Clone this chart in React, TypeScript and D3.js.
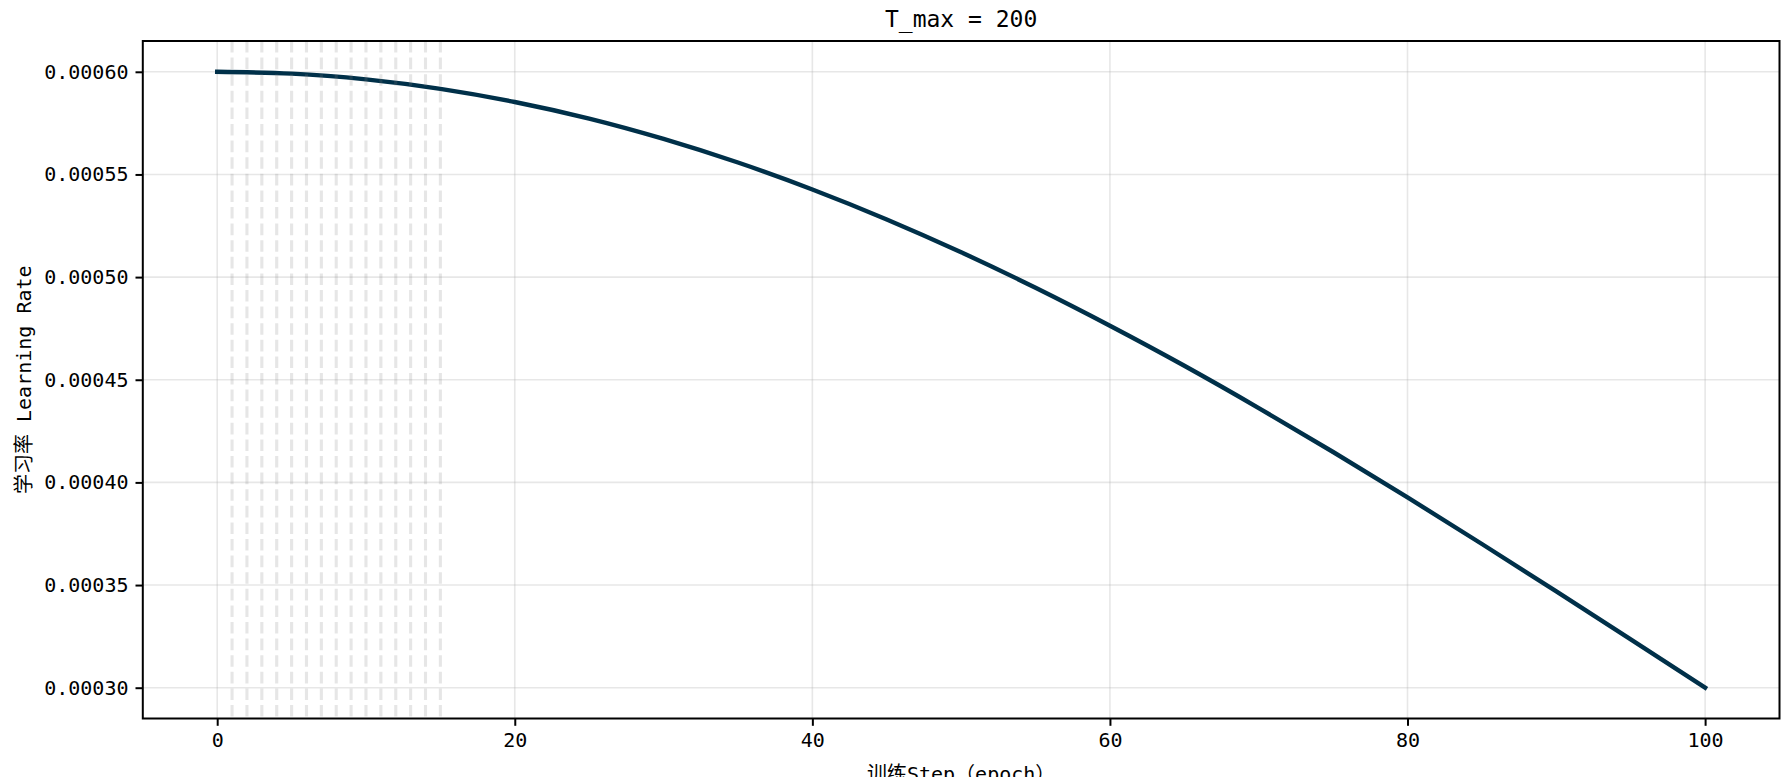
import React, { useRef, useEffect } from 'react';
import * as d3 from 'd3';

// training steps (epochs) sampled along the curve
const steps = [0, 5, 10, 15, 20, 25, 30, 35, 40, 45, 50, 55, 60, 65, 70, 75, 80, 85, 90, 95, 100];
// learning rate at each step
const lrValues = [
  0.0006000, 0.0005991, 0.0005963, 0.0005917, 0.0005853, 0.0005772, 0.0005673,
  0.0005558, 0.0005427, 0.0005281, 0.0005121, 0.0004948, 0.0004763, 0.0004568,
  0.0004362, 0.0004148, 0.0003927, 0.0003700, 0.0003469, 0.0003235, 0.0003000,
];
// dashed markers at the first epochs
const markerSteps = [1, 2, 3, 4, 5, 6, 7, 8, 9, 10, 11, 12, 13, 14, 15];
const xTicks = [0, 20, 40, 60, 80, 100];
const yTicks = [0.0003, 0.00035, 0.0004, 0.00045, 0.0005, 0.00055, 0.0006];

const FONT = '"DejaVu Sans Mono", "Liberation Mono", "Noto Sans CJK SC", monospace';

const App: React.FC = () => {
  const svgRef = useRef<SVGSVGElement>(null);

  useEffect(() => {
    if (!svgRef.current) return;
    const width = 1791;
    const height = 777;
    const margin = { top: 41, right: 11.5, bottom: 58.5, left: 142.8 };
    const innerWidth = width - margin.left - margin.right;
    const innerHeight = height - margin.top - margin.bottom;

    const svg = d3.select(svgRef.current);
    svg.selectAll('*').remove();
    svg.append('rect').attr('width', width).attr('height', height).attr('fill', '#fff');

    const g = svg.append('g').attr('transform', `translate(${margin.left},${margin.top})`);

    const x = d3.scaleLinear().domain([-5, 105]).range([0, innerWidth]);
    const y = d3.scaleLinear().domain([0.000285, 0.000615]).range([innerHeight, 0]);

    // grid
    g.append('g')
      .selectAll('line')
      .data(xTicks)
      .join('line')
      .attr('x1', d => x(d)).attr('x2', d => x(d))
      .attr('y1', 0).attr('y2', innerHeight)
      .attr('stroke', '#b0b0b0').attr('stroke-opacity', 0.3).attr('stroke-width', 1.6);
    g.append('g')
      .selectAll('line')
      .data(yTicks)
      .join('line')
      .attr('x1', 0).attr('x2', innerWidth)
      .attr('y1', d => y(d)).attr('y2', d => y(d))
      .attr('stroke', '#b0b0b0').attr('stroke-opacity', 0.3).attr('stroke-width', 1.6);

    // curve
    const line = d3.line<number>()
      .x((_, i) => x(steps[i]))
      .y(d => y(d))
      .curve(d3.curveNatural);
    g.append('path')
      .datum(lrValues)
      .attr('d', line)
      .attr('fill', 'none')
      .attr('stroke', '#003049')
      .attr('stroke-width', 4.4)
      .attr('stroke-linecap', 'square');

    // dashed vertical markers
    g.append('g')
      .selectAll('line')
      .data(markerSteps)
      .join('line')
      .attr('x1', d => x(d)).attr('x2', d => x(d))
      .attr('y1', 0).attr('y2', innerHeight)
      .attr('stroke', 'gray').attr('stroke-opacity', 0.2)
      .attr('stroke-width', 3.1)
      .attr('stroke-dasharray', '11.6,5');

    // axes
    const xAxis = g.append('g')
      .attr('transform', `translate(0,${innerHeight})`)
      .call(d3.axisBottom(x).tickValues(xTicks).tickSize(7.3).tickPadding(7).tickFormat(d3.format('d')));
    const yAxis = g.append('g')
      .call(d3.axisLeft(y).tickValues(yTicks).tickSize(7.3).tickPadding(7).tickFormat(d3.format('.5f')));
    [xAxis, yAxis].forEach(a => {
      a.select('.domain').remove();
      a.selectAll('line').attr('stroke', '#000').attr('stroke-width', 2);
      a.selectAll('text').attr('font-family', FONT).attr('font-size', 20).attr('fill', '#000');
    });

    // frame
    g.append('rect')
      .attr('width', innerWidth).attr('height', innerHeight)
      .attr('fill', 'none').attr('stroke', '#000').attr('stroke-width', 2);

    // labels
    svg.append('text')
      .attr('x', margin.left + innerWidth / 2).attr('y', 27.3)
      .attr('text-anchor', 'middle')
      .attr('font-family', FONT).attr('font-size', 23)
      .text('T_max = 200');
    svg.append('text')
      .attr('x', margin.left + innerWidth / 2).attr('y', 781)
      .attr('text-anchor', 'middle')
      .attr('font-family', FONT).attr('font-size', 20)
      .text('训练Step（epoch）');
    svg.append('text')
      .attr('transform', `translate(31,${margin.top + innerHeight / 2}) rotate(-90)`)
      .attr('text-anchor', 'middle')
      .attr('font-family', FONT).attr('font-size', 20)
      .text('学习率 Learning Rate');
  }, []);

  return (
    <svg
      ref={svgRef}
      width={1791}
      height={777}
      style={{ position: 'absolute', left: 0, top: 0, display: 'block' }}
    />
  );
};

export default App;
